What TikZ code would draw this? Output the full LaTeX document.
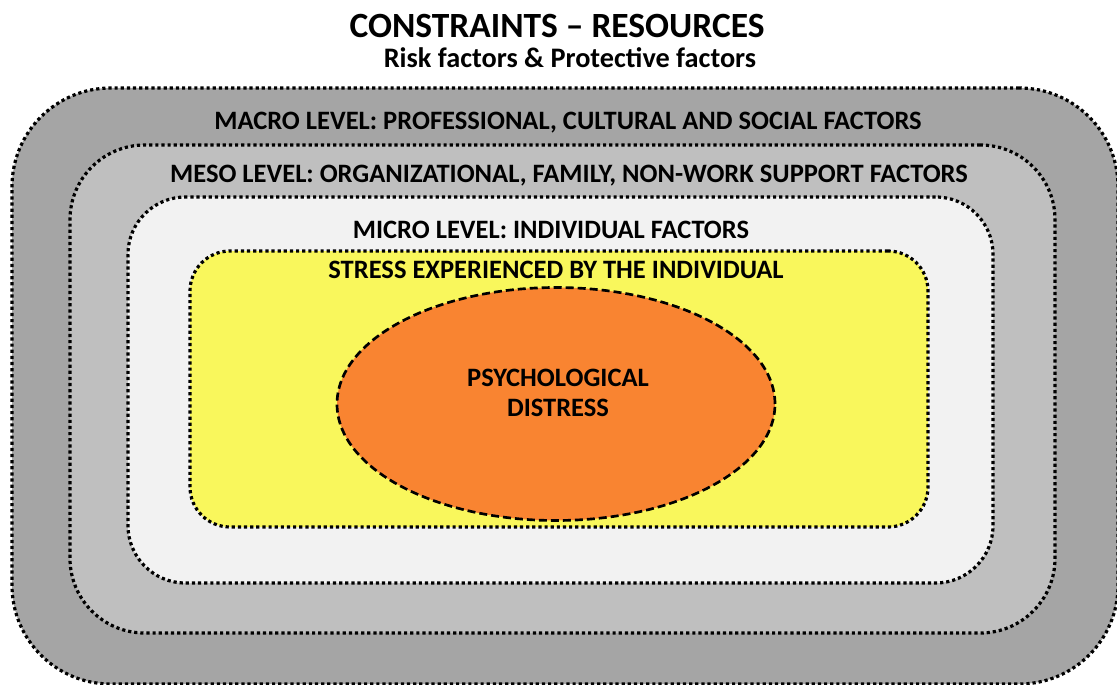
\documentclass[tikz,border=0pt]{standalone}
\usepackage{fontspec}
\setmainfont{Carlito}
\usetikzlibrary{shapes.geometric}
\definecolor{macrogray}{HTML}{A5A5A5}
\definecolor{mesogray}{HTML}{BFBFBF}
\definecolor{microgray}{HTML}{F2F2F2}
\definecolor{stressyellow}{HTML}{F9F75C}
\definecolor{distressorange}{HTML}{F98431}
\tikzset{
  levelbox/.style={draw=black, line width=2.4pt, dash pattern=on 2.4pt off 2.2pt, rectangle},
  lbl/.style={font=\bfseries\fontsize{19.9}{22.5}\selectfont, text=black, inner sep=0pt},
}
\begin{document}
\begin{tikzpicture}[x=0.75pt,y=-0.75pt]
\useasboundingbox[fill=white] (0,0) rectangle (1117,685);
\node[levelbox, fill=macrogray, rounded corners=74pt, minimum width=829.5pt, minimum height=447pt] (macro) at (565,386) {};
\node[levelbox, fill=mesogray, rounded corners=56pt, minimum width=738.75pt, minimum height=366pt] (meso) at (562.5,389) {};
\node[levelbox, fill=microgray, rounded corners=43pt, minimum width=648.75pt, minimum height=289.5pt] (micro) at (560.5,390) {};
\node[levelbox, fill=stressyellow, rounded corners=30pt, minimum width=553.5pt, minimum height=207pt] (stress) at (559,389) {};
\node[ellipse, draw=black, line width=2pt, dash pattern=on 6pt off 3pt, fill=distressorange, minimum width=328.5pt, minimum height=174.75pt, inner sep=0pt] (distress) at (556,404) {};
\node[lbl, align=center] (distresslbl) at (558,393) {PSYCHOLOGICAL\\DISTRESS};
\node[lbl, font=\bfseries\fontsize{26.6}{30}\selectfont] (title) at (557,26) {CONSTRAINTS -- RESOURCES};
\node[lbl, font=\bfseries\fontsize{21.2}{24}\selectfont] (subtitle) at (570,58) {Risk factors \& Protective factors};
\node[lbl] (macrolbl) at (568,123) {MACRO LEVEL: PROFESSIONAL, CULTURAL AND SOCIAL FACTORS};
\node[lbl] (mesolbl) at (569,176) {MESO LEVEL: ORGANIZATIONAL, FAMILY, NON-WORK SUPPORT FACTORS};
\node[lbl] (microlbl) at (551,230) {MICRO LEVEL: INDIVIDUAL FACTORS};
\node[lbl] (stresslbl) at (556,270) {STRESS EXPERIENCED BY THE INDIVIDUAL};
\end{tikzpicture}
\end{document}
